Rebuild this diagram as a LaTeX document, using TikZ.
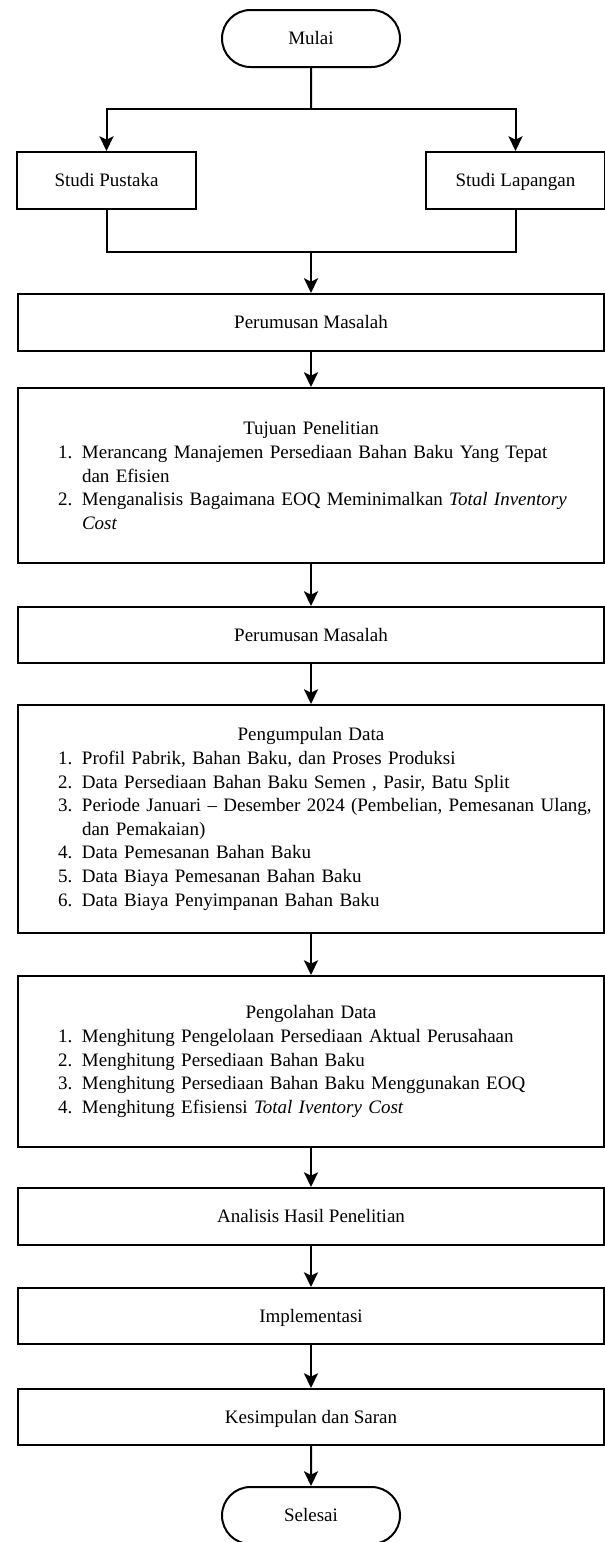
\documentclass[tikz,border=0pt]{standalone}
\usepackage{fontspec}
\setmainfont{Liberation Serif}
\usetikzlibrary{arrows.meta,shapes.misc}

\newcommand{\judul}[1]{{\centering #1\par}}
\newcommand{\itm}[2]{\noindent\hspace*{30pt}\makebox[18pt][l]{#1}\mbox{#2}\par}
\newcommand{\lanjut}[1]{\noindent\hspace*{48pt}\mbox{#1}\par}

\tikzset{
  dasar/.style={draw, line width=1.5pt, inner sep=0pt,
    font=\fontsize{14.25}{17.7}\selectfont},
  kotak/.style={dasar, rectangle, minimum width=439.5pt, minimum height=42.75pt,
    text height=11pt, text depth=2pt},
  studi/.style={kotak, minimum width=134pt},
  isi/.style={dasar, rectangle, minimum width=439.5pt, text width=439.5pt},
  ujung/.style={dasar, rounded rectangle, minimum width=133.5pt,
    minimum height=42.75pt, text height=11pt, text depth=2pt},
  panah/.style={-{Stealth[length=11pt,width=10.5pt,inset=2.5pt]}},
  garis/.style={line width=1.5pt}
}

\begin{document}
\begin{tikzpicture}[x=0.75pt, y=-0.75pt]
  \useasboundingbox (0,0) rectangle (605,1542);

  \node[ujung] (mulai) at (311,38.5) {Mulai};
  \node[studi] (pustaka) at (106.5,180.5) {Studi Pustaka};
  \node[studi] (lapangan) at (515.5,180.5) {Studi Lapangan};
  \node[kotak] (rumus1) at (311,322.5) {Perumusan Masalah};
  \node[isi, minimum height=131.25pt] (tujuan) at (311,475.5) {%
    \judul{Tujuan Penelitian}
    \itm{1.}{Merancang Manajemen Persediaan Bahan Baku Yang Tepat}
    \lanjut{dan Efisien}
    \itm{2.}{Menganalisis Bagaimana EOQ Meminimalkan \textit{Total Inventory}}
    \lanjut{\textit{Cost}}};
  \node[kotak, minimum height=42pt] (rumus2) at (311,635) {Perumusan Masalah};
  \node[isi, minimum height=171pt] (kumpul) at (311,819) {%
    \judul{Pengumpulan Data}
    \itm{1.}{Profil Pabrik, Bahan Baku, dan Proses Produksi}
    \itm{2.}{Data Persediaan Bahan Baku Semen , Pasir, Batu Split}
    \itm{3.}{Periode Januari – Desember 2024 (Pembelian, Pemesanan Ulang,}
    \lanjut{dan Pemakaian)}
    \itm{4.}{Data Pemesanan Bahan Baku}
    \itm{5.}{Data Biaya Pemesanan Bahan Baku}
    \itm{6.}{Data Biaya Penyimpanan Bahan Baku}};
  \node[isi, minimum height=128.25pt] (olah) at (311,1061.5) {%
    \judul{Pengolahan Data}
    \itm{1.}{Menghitung Pengelolaan Persediaan Aktual Perusahaan}
    \itm{2.}{Menghitung Persediaan Bahan Baku}
    \itm{3.}{Menghitung Persediaan Bahan Baku Menggunakan EOQ}
    \itm{4.}{Menghitung Efisiensi \textit{Total Iventory Cost}}};
  \node[kotak] (analisis) at (311,1216.5) {Analisis Hasil Penelitian};
  \node[kotak, minimum height=42pt] (impl) at (311,1316) {Implementasi};
  \node[kotak, minimum height=42pt] (simpul) at (311,1417) {Kesimpulan dan Saran};
  \node[ujung] (selesai) at (311,1515.5) {Selesai};

  \coordinate (cabang) at (311,109);
  \coordinate (gabung) at (311,252);
  \draw[garis] (mulai) -- (cabang);
  \draw[garis, panah] (cabang) -| (pustaka);
  \draw[garis, panah] (cabang) -| (lapangan);
  \draw[garis] (pustaka.south) |- (gabung) -| (lapangan.south);
  \draw[garis, panah] (gabung) -- (rumus1);
  \foreach \a/\b in {rumus1/tujuan, tujuan/rumus2, rumus2/kumpul, kumpul/olah,
    olah/analisis, analisis/impl, impl/simpul, simpul/selesai}
    \draw[garis, panah] (\a) -- (\b);
\end{tikzpicture}
\end{document}
